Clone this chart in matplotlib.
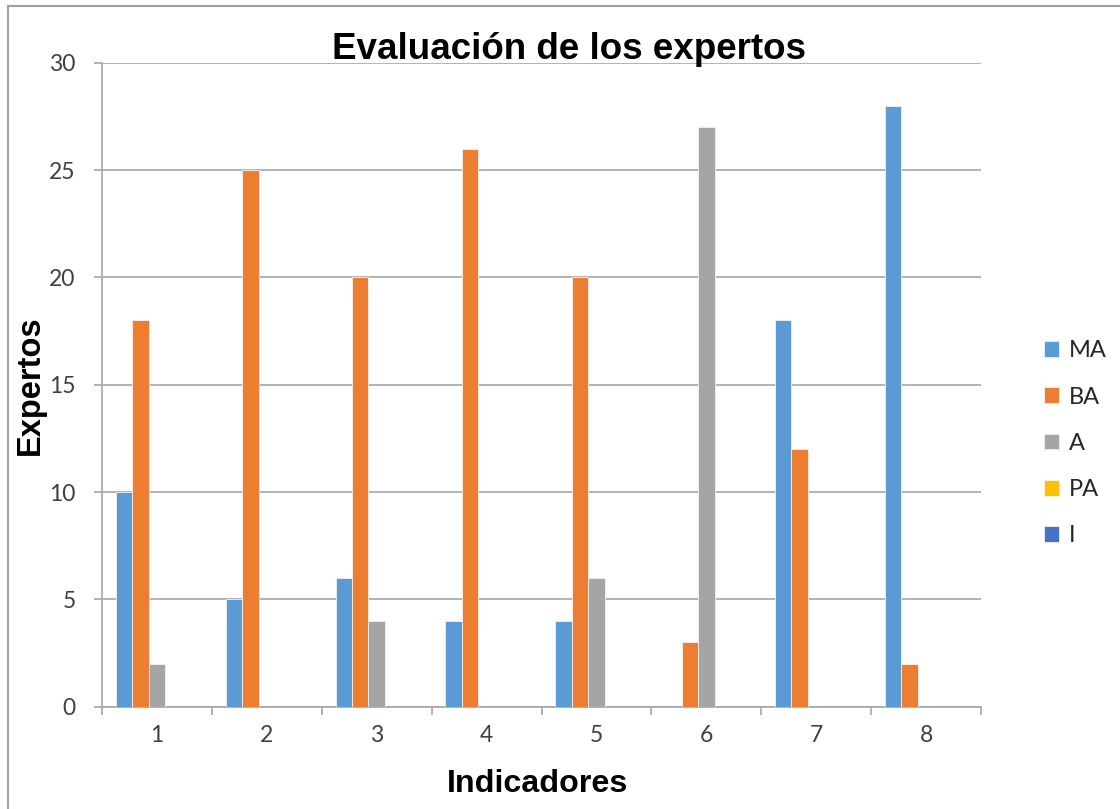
import matplotlib
matplotlib.use('Agg')
import matplotlib.pyplot as plt
from matplotlib.lines import Line2D
import numpy as np

# Datos de la evaluación por indicador
indicadores = ['1', '2', '3', '4', '5', '6', '7', '8']
ma = [10, 5, 6, 4, 4, 0, 18, 28]
ba = [18, 25, 20, 26, 20, 3, 12, 2]
a = [2, 0, 4, 0, 6, 27, 0, 0]
pa = [0, 0, 0, 0, 0, 0, 0, 0]
i_ = [0, 0, 0, 0, 0, 0, 0, 0]

series = [('MA', ma, '#5B9BD5'), ('BA', ba, '#ED7D31'), ('A', a, '#A5A5A5'),
          ('PA', pa, '#FFC000'), ('I', i_, '#4472C4')]

fig = plt.figure(figsize=(11.2, 8.09), dpi=100)
ax = fig.add_axes([0.0911, 0.1265, 0.7848, 0.796])

x = np.arange(len(indicadores))
w = 0.15
for k, (nombre, vals, color) in enumerate(series):
    ax.bar(x + (k - 2) * w, vals, width=w, color=color, label=nombre,
           edgecolor='#F2F2F2', linewidth=0.6, zorder=3)

ax.set_xlim(-0.5, len(indicadores) - 0.5)
ax.set_ylim(0, 30)
ax.set_yticks(range(0, 31, 5))
ax.grid(axis='y', color='#A6A6A6', linewidth=1.2, zorder=0)

# marcas entre categorías, etiquetas centradas
ax.set_xticks(np.arange(-0.5, len(indicadores), 1))
ax.set_xticklabels([])
ax.set_xticks(x, minor=True)
ax.set_xticklabels(indicadores, minor=True)
ax.tick_params(axis='x', which='major', length=6, color='#A6A6A6', width=1.2)
ax.tick_params(axis='x', which='minor', length=0, pad=13, labelsize=16.5, labelcolor='#404040')
ax.tick_params(axis='y', length=6, color='#A6A6A6', width=1.2, pad=13,
               labelsize=16.5, labelcolor='#404040')
for lab in ax.get_xticklabels(minor=True) + ax.get_yticklabels():
    lab.set_fontfamily('Lato')

for s in ['top', 'right']:
    ax.spines[s].set_visible(False)
for s in ['left', 'bottom']:
    ax.spines[s].set_color('#A6A6A6')
    ax.spines[s].set_linewidth(1.2)

fig.text(0.508, 0.939, 'Evaluación de los expertos', ha='center', va='center',
         fontsize=26.5, fontweight='bold', family='Liberation Sans')
fig.text(0.027, 0.524, 'Expertos', ha='center', va='center', rotation=90,
         fontsize=23.5, fontweight='bold', family='Liberation Sans')
fig.text(0.480, 0.031, 'Indicadores', ha='center', va='center',
         fontsize=23.2, fontweight='bold', family='Liberation Sans')

leg = fig.legend(loc='center left', bbox_to_anchor=(0.913, 0.452), frameon=False,
                 prop={'family': 'Lato', 'size': 17}, handlelength=0.65,
                 handleheight=0.65, handletextpad=0.4, labelspacing=1.07)
for t in leg.get_texts():
    t.set_color('#262626')

# borde del área del gráfico
fig.add_artist(Line2D([7.5 / 1120, 7.5 / 1120], [0, 1 - 6 / 809],
                      transform=fig.transFigure, color='#A0A0A0', linewidth=1.5))
fig.add_artist(Line2D([7.5 / 1120, 1], [1 - 6 / 809, 1 - 6 / 809],
                      transform=fig.transFigure, color='#A0A0A0', linewidth=1.5))

fig.savefig('out.png', dpi=100)
